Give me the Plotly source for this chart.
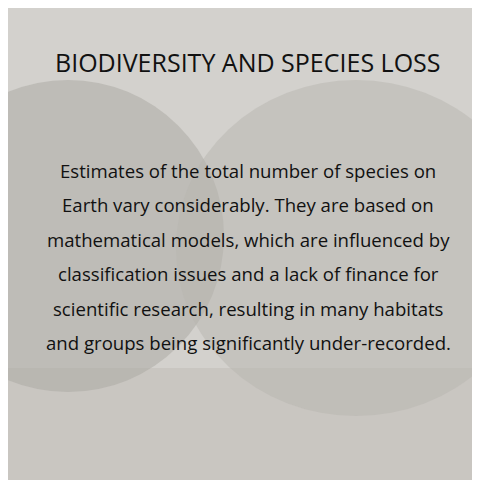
import plotly.graph_objects as go

title = "BIODIVERSITY AND SPECIES LOSS"
body_lines = [
    "Estimates of the total number of species on",
    "Earth vary considerably. They are based on",
    "mathematical models, which are influenced by",
    "classification issues and a lack of finance for",
    "scientific research, resulting in many habitats",
    "and groups being significantly under-recorded.",
]

fig = go.Figure()
shapes = [
    dict(type="rect", xref="paper", yref="paper", x0=0, x1=1, y0=0, y1=0.25,
         fillcolor="#c9c6c1", line_width=0, layer="below"),
    dict(type="circle", xref="paper", yref="paper", x0=-0.2, x1=0.45, y0=0.2, y1=0.85,
         fillcolor="#aaa7a2", line_width=0, layer="below", opacity=0.5),
    dict(type="circle", xref="paper", yref="paper", x0=0.35, x1=1.1, y0=0.15, y1=0.85,
         fillcolor="#b8b5b0", line_width=0, layer="below", opacity=0.5),
]
fig.add_annotation(x=0.5, y=0.8875, xref="paper", yref="paper", text=title,
                   xanchor="center", yanchor="middle",
                   showarrow=False, font=dict(family="Open Sans", size=25, color="#111111"))
top = 0.6625
step = 0.072
for i, line in enumerate(body_lines):
    fig.add_annotation(x=0.5, y=top - i * step, xref="paper", yref="paper", text=line,
                       xanchor="center", yanchor="middle",
                       showarrow=False, font=dict(family="Open Sans", size=18.6, color="#111111"))
fig.update_layout(width=480, height=480, margin=dict(l=0, r=0, t=0, b=0),
                  paper_bgcolor="#d3d1cd", plot_bgcolor="#d3d1cd", shapes=shapes,
                  xaxis=dict(visible=False), yaxis=dict(visible=False))
fig.write_html("out.html")
